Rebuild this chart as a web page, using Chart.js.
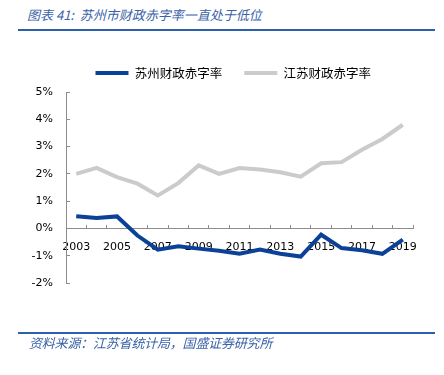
<!DOCTYPE html>
<html lang="zh">
<head>
  <meta charset="UTF-8">
  <title>苏州市财政赤字率</title>
  <script src="https://cdn.jsdelivr.net/npm/chart.js"></script>
  <style>
    body { margin: 0; background: #fff; width: 444px; height: 375px; position: relative; overflow: hidden; }
    canvas { position: absolute; left: 0; top: 0; }
    .title, .source {
      position: absolute; left: 27px; font-family: "Noto Sans CJK SC", sans-serif;
      font-style: italic; font-size: 13px; color: #3a62a8; white-space: nowrap; line-height: 1;
    }
    .title { top: 8px; }
    .source { top: 336px; left: 29px; letter-spacing: -0.2px; }
    .rule { position: absolute; left: 18px; width: 417px; height: 2px; background: #2d5fae; }
  </style>
</head>
<body>
  <div class="title">图表 41:&nbsp; 苏州市财政赤字率一直处于低位</div>
  <div class="rule" style="top: 29px;"></div>
  <canvas id="chart" width="444" height="375"></canvas>
  <div class="rule" style="top: 332px;"></div>
  <div class="source">资料来源：江苏省统计局，国盛证券研究所</div>

  <script>
    const years = ['2003', '2004', '2005', '2006', '2007', '2008', '2009', '2010', '2011',
                   '2012', '2013', '2014', '2015', '2016', '2017', '2018', '2019'];
    // deficit rate, %
    const suzhou = [0.45, 0.38, 0.44, -0.26, -0.78, -0.65, -0.74, -0.82, -0.93,
                    -0.77, -0.93, -1.03, -0.23, -0.72, -0.80, -0.93, -0.41];
    const jiangsu = [2.00, 2.22, 1.88, 1.64, 1.21, 1.66, 2.31, 2.00, 2.21,
                     2.16, 2.06, 1.90, 2.39, 2.43, 2.88, 3.28, 3.80];

    const axisGray = '#8c8c8c';
    const tickFont = { family: 'DejaVu Sans', size: 11 };

    // a little extra room between the legend and the plot
    const legendGap = {
      id: 'legendGap',
      beforeLayout(chart) {
        const lg = chart.legend;
        if (lg && !lg._gapped) {
          const fit = lg.fit;
          lg.fit = function () { fit.call(this); this.height += 2.75; };
          lg._gapped = true;
        }
      }
    };

    new Chart(document.getElementById('chart'), {
      type: 'line',
      data: {
        labels: years,
        datasets: [
          { label: '苏州财政赤字率', data: suzhou, borderColor: '#0b4196', backgroundColor: '#0b4196',
            borderWidth: 4, pointRadius: 0, tension: 0 },
          { label: '江苏财政赤字率', data: jiangsu, borderColor: '#cbcbcb', backgroundColor: '#cbcbcb',
            borderWidth: 4, pointRadius: 0, tension: 0 }
        ]
      },
      plugins: [legendGap],
      options: {
        responsive: false,
        animation: false,
        layout: { padding: { left: 0, right: 31, top: 44.75, bottom: 92 } },
        plugins: {
          tooltip: { enabled: false },
          legend: {
            position: 'top',
            fullSize: false,
            labels: {
              boxWidth: 33,
              boxHeight: 4,
              padding: 22,
              color: '#222',
              font: { family: 'Noto Sans CJK SC', size: 12.5 },
              // trailing ideographic space nudges the centred legend left a bit
              generateLabels: chart => chart.data.datasets.map((ds, i) => ({
                text: ds.label + (i === 1 ? '\u3000' : ''), fillStyle: ds.borderColor,
                strokeStyle: ds.borderColor, lineWidth: 0, datasetIndex: i
              }))
            }
          }
        },
        scales: {
          x: {
            type: 'category',
            position: { y: 0 },
            offset: true,
            grid: { offset: true, drawOnChartArea: false, tickLength: -4, color: axisGray },
            border: { color: axisGray },
            ticks: {
              autoSkip: false, maxRotation: 0, padding: 16, color: '#000', font: tickFont,
              callback: function (v, i) { return i % 2 === 0 ? this.getLabelForValue(v) : ''; }
            }
          },
          y: {
            min: -2,
            max: 5,
            afterFit: s => { s.width = 66; },
            grid: { drawOnChartArea: false, tickLength: -4, color: axisGray },
            border: { color: axisGray },
            ticks: { stepSize: 1, padding: 17, color: '#000', font: tickFont, callback: v => v + '%' }
          }
        }
      }
    });
  </script>
</body>
</html>
